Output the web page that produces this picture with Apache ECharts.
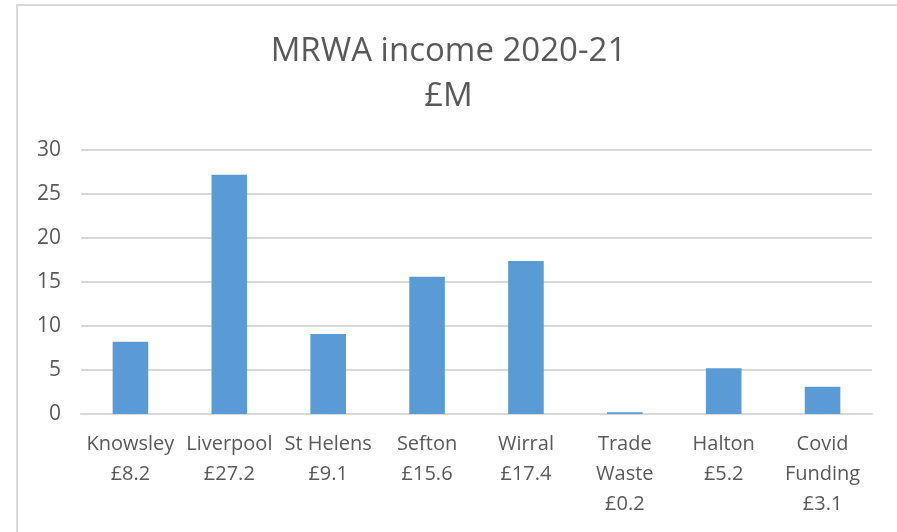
<!DOCTYPE html>
<html>
<head>
<meta charset="utf-8">
<script src="https://cdn.jsdelivr.net/npm/echarts@6/dist/echarts.min.js"></script>
<style>
  html, body { margin: 0; padding: 0; background: #fff; }
  #chart { width: 897px; height: 532px; }
</style>
</head>
<body>
<div id="chart"></div>
<script>
// Données du graphique
const categories = ['Knowsley', 'Liverpool', 'St Helens', 'Sefton', 'Wirral', 'Trade\nWaste', 'Halton', 'Covid\nFunding'];
const incomeValues = [8.2, 27.2, 9.1, 15.6, 17.4, 0.2, 5.2, 3.1];
const yTicks = [0, 5, 10, 15, 20, 25, 30];

const fontFamily = '"Open Sans", sans-serif';

const chart = echarts.init(document.getElementById('chart'), null, { renderer: 'canvas' });

const option = {
    animation: false,
    title: {
        text: 'MRWA income 2020-21\n£M',
        left: 'center',
        top: 24,
        textStyle: {
            fontFamily: fontFamily,
            fontSize: 33,
            fontWeight: 'normal',
            color: '#595959',
            lineHeight: 45
        }
    },
    graphic: [
        {
            type: 'polyline',
            shape: { points: [[17, 540], [17, 5], [900, 5]] },
            style: { stroke: '#d9d9d9', lineWidth: 2, fill: null }
        }
    ],
    grid: {
        left: 81,
        right: 25,
        top: 150,
        bottom: 118
    },
    xAxis: {
        type: 'category',
        data: categories.map((c, i) => c + '\n£' + incomeValues[i].toFixed(1)),
        axisLine: { lineStyle: { color: '#d9d9d9', width: 2 } },
        axisTick: { show: false },
        axisLabel: {
            interval: 0,
            margin: 15,
            fontFamily: fontFamily,
            fontSize: 20,
            lineHeight: 30,
            color: '#595959'
        }
    },
    yAxis: {
        type: 'value',
        min: yTicks[0],
        max: yTicks[yTicks.length - 1],
        interval: 5,
        axisLine: { show: false },
        axisTick: { show: false },
        splitLine: { lineStyle: { color: '#d9d9d9', width: 2 } },
        axisLabel: {
            margin: 20,
            fontFamily: fontFamily,
            fontSize: 21,
            color: '#595959'
        }
    },
    series: [
        {
            name: 'Income',
            type: 'bar',
            data: incomeValues,
            barWidth: '36%',
            itemStyle: { color: '#5b9bd5' }
        }
    ]
};

chart.setOption(option);
</script>
</body>
</html>
